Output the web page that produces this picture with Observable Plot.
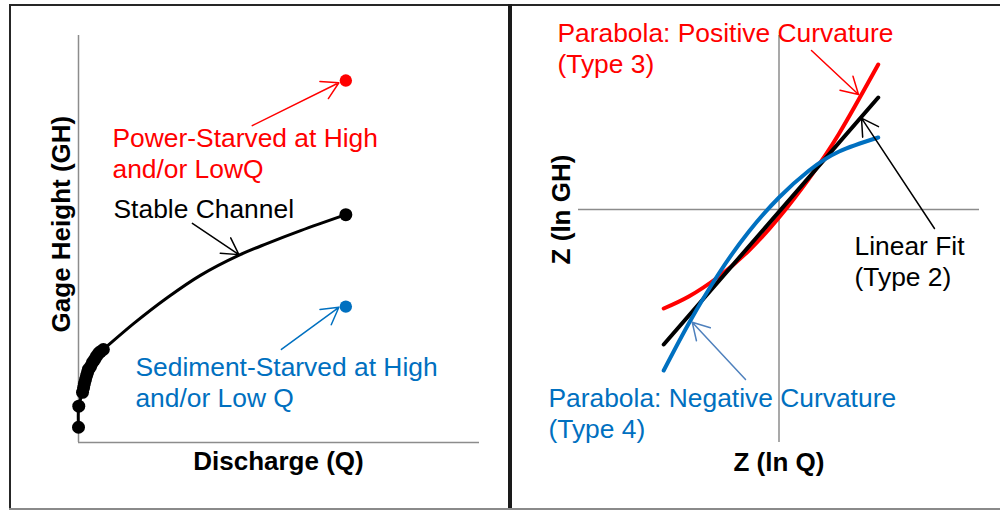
<!DOCTYPE html>
<html><head><meta charset="utf-8">
<script src="https://cdn.jsdelivr.net/npm/d3@7"></script>
<script src="https://cdn.jsdelivr.net/npm/@observablehq/plot@0.6"></script>
<style>
body{margin:0;background:#fff;}
#wrap{position:relative;width:1000px;height:510px;overflow:hidden;background:#fff;}
#left{position:absolute;left:0;top:0;width:510px;height:510px;}
#right{position:absolute;left:510px;top:0;width:490px;height:510px;}
.b{position:absolute;}
</style></head>
<body>
<div id="wrap"><div id="left"></div><div id="right"></div>
<div class="b" style="left:9px;top:4px;width:991px;height:2px;background:#262626"></div>
<div class="b" style="left:9px;top:4px;width:2px;height:506px;background:#262626"></div>
<div class="b" style="left:508px;top:4px;width:4px;height:506px;background:#1a1a1a"></div>
<div class="b" style="left:9px;top:508px;width:991px;height:2px;background:#8a8a8a"></div>
</div>
<script>
// ---- Left panel data: stage-discharge (rating) curve ----
const stableQ  = [0, 0.1, 1.5, 3.0, 4.5, 6.0, 7.5, 9.3, 20.6, 33.3, 45.6, 59.9, 70.7, 83.1, 100];
const stableGH = [4.2, 10.0, 13.8, 18.4, 20.9, 22.8, 24.5, 25.6, 32.7, 39.9, 46.0, 51.5, 54.8, 58.3, 62.7];
const obsQ  = [0, 0.1, 1.5, 1.9, 2.2, 2.6, 3.0, 3.4, 3.7, 4.5, 5.2, 6.0, 6.7, 7.5, 8.2, 9.3, 100];
const obsGH = [4.2, 10.0, 13.8, 15.1, 16.2, 17.3, 18.4, 19.3, 20.1, 20.9, 22.0, 22.8, 23.7, 24.5, 25.0, 25.6, 62.7];
const powerStarved    = {q: 100, gh: 99.6};
const sedimentStarved = {q: 100, gh: 37.4};

// ---- Right panel data: standardized log-log fits ----
const zQ        = [-1.15, -0.9, -0.6, -0.3, 0, 0.3, 0.6, 0.99];
const zPositive = [-0.99, -0.87, -0.67, -0.41, -0.08, 0.31, 0.76, 1.45];
const zNegative = [-1.61, -1.14, -0.64, -0.22, 0.12, 0.39, 0.58, 0.72];
const zLinearQ  = [-1.15, 0.99];
const zLinear   = [-1.35, 1.12];

const font = "Liberation Sans, Arial, Helvetica, sans-serif";
const RED = "#ff0000", BLUE = "#0070c0", LIGHTBLUE = "#4f81bd", GRAY = "#8c8c8c";

const stable = stableQ.map((q, i) => ({q, gh: stableGH[i]}));
const obs = obsQ.map((q, i) => ({q, gh: obsGH[i]}));
const pos = zQ.map((x, i) => ({x, y: zPositive[i]}));
const neg = zQ.map((x, i) => ({x, y: zNegative[i]}));
const lin = zLinearQ.map((x, i) => ({x, y: zLinear[i]}));

const txt = (s, o) => Plot.text([s], {text: d => d, fontFamily: font, fontSize: 26.4, lineAnchor: "bottom", lineHeight: 1.16, ...o});
const arr = (a, o) => Plot.arrow([a], {x1: "x1", y1: "y1", x2: "x2", y2: "y2", strokeWidth: 1.5, headLength: 19, ...o});

const left = Plot.plot({
  width: 510, height: 510, margin: 0,
  style: {background: "transparent", fontFamily: font},
  x: {domain: [0, 150], range: [78, 479], axis: null},
  y: {domain: [0, 112], range: [442, 35], axis: null},
  marks: [
    Plot.ruleX([0], {y1: 0, y2: 112, stroke: GRAY, strokeWidth: 1.5}),
    Plot.ruleY([0], {x1: 0, x2: 150, stroke: GRAY, strokeWidth: 1.5}),
    Plot.line(stable, {x: "q", y: "gh", stroke: "black", strokeWidth: 3, curve: "catmull-rom"}),
    Plot.dot(obs, {x: "q", y: "gh", r: 6.5, fill: "black"}),
    Plot.dot([powerStarved], {x: "q", y: "gh", r: 6.2, fill: RED}),
    Plot.dot([sedimentStarved], {x: "q", y: "gh", r: 6.2, fill: BLUE}),
    arr({x1: 65.0, y1: 87.2, x2: 97.4, y2: 99.0}, {stroke: RED}),
    arr({x1: 42.6, y1: 60.3, x2: 60.0, y2: 51.7}, {stroke: "black"}),
    arr({x1: 75.9, y1: 25.6, x2: 97.4, y2: 37.2}, {stroke: BLUE}),
    txt("Power-Starved at High\nand/or LowQ", {x: 12.7, y: 72.9, textAnchor: "start", fill: RED}),
    txt("Stable Channel", {x: 13.1, y: 61.9, textAnchor: "start", fill: "black"}),
    txt("Sediment-Starved at High\nand/or Low Q", {x: 21.3, y: 9.9, textAnchor: "start", fill: BLUE}),
    txt("Gage Height (GH)", {x: -3.0, y: 60.1, rotate: -90, textAnchor: "middle", fontWeight: "bold", fontSize: 26, fill: "black"}),
    txt("Discharge (Q)", {x: 74.8, y: -7.7, textAnchor: "middle", fontWeight: "bold", fontSize: 26, fill: "black"})
  ]
});
document.getElementById("left").append(left);

const right = Plot.plot({
  width: 490, height: 510, margin: 0,
  style: {background: "transparent", fontFamily: font},
  x: {domain: [-2, 2], range: [68, 469], axis: null},
  y: {domain: [-2.33, 1.74], range: [442, 35], axis: null},
  marks: [
    Plot.ruleX([0], {y1: -2.33, y2: 1.74, stroke: GRAY, strokeWidth: 1.5}),
    Plot.ruleY([0], {x1: -2, x2: 2, stroke: GRAY, strokeWidth: 1.5}),
    Plot.line(pos, {x: "x", y: "y", stroke: RED, strokeWidth: 4, curve: "natural"}),
    Plot.line(lin, {x: "x", y: "y", stroke: "black", strokeWidth: 4}),
    Plot.line(neg, {x: "x", y: "y", stroke: BLUE, strokeWidth: 4, curve: "natural"}),
    arr({x1: 0.324, y1: 1.59, x2: 0.793, y2: 1.15}, {stroke: RED}),
    arr({x1: 1.551, y1: -0.19, x2: 0.823, y2: 0.913}, {stroke: "black"}),
    arr({x1: -0.334, y1: -1.70, x2: -0.866, y2: -1.127}, {stroke: LIGHTBLUE}),
    txt("Parabola: Positive Curvature\n(Type 3)", {x: -2.21, y: 1.37, textAnchor: "start", fill: RED}),
    txt("Linear Fit\n(Type 2)", {x: 0.753, y: -0.76, textAnchor: "start", fill: "black"}),
    txt("Parabola: Negative Curvature\n(Type 4)", {x: -2.30, y: -2.285, textAnchor: "start", fill: BLUE}),
    txt("Z (ln GH)", {x: -2.08, y: 0, rotate: -90, textAnchor: "middle", fontWeight: "bold", fontSize: 26, fill: "black"}),
    txt("Z (ln Q)", {x: 0, y: -2.61, textAnchor: "middle", fontWeight: "bold", fontSize: 26, fill: "black"})
  ]
});
document.getElementById("right").append(right);
</script>
</body></html>
